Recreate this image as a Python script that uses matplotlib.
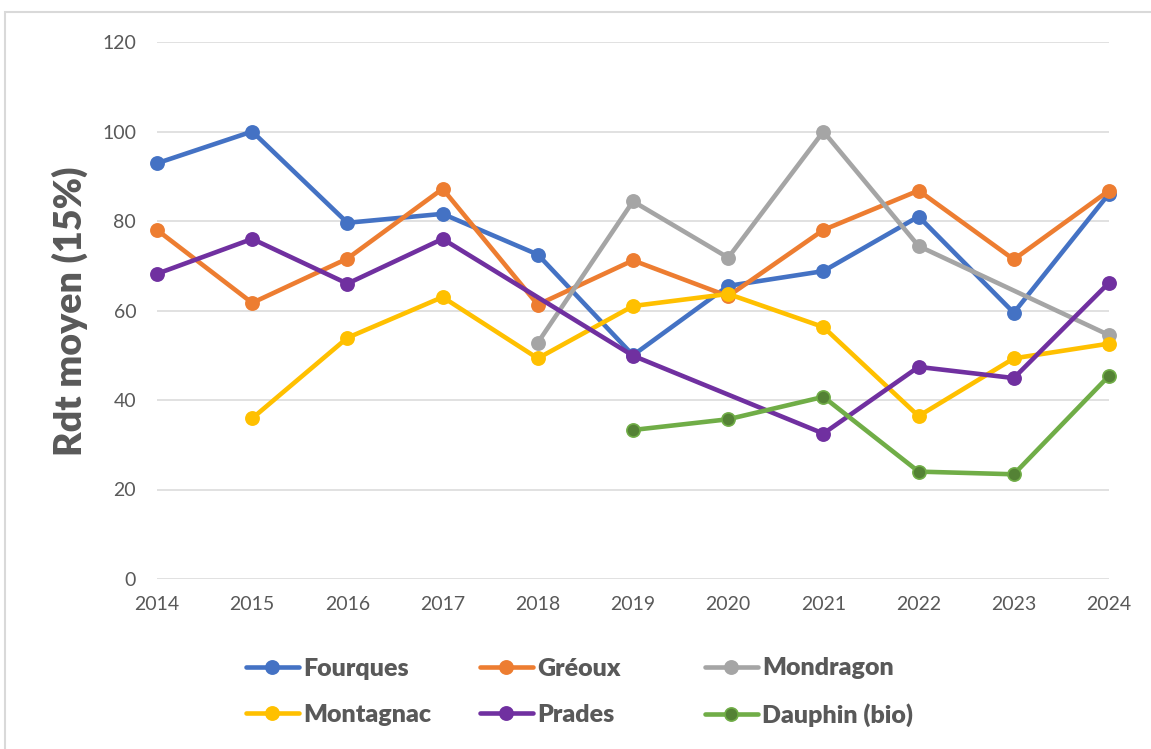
import matplotlib.pyplot as plt
from matplotlib.patches import Rectangle
import numpy as np

plt.rcParams['font.family'] = ['Lato', 'DejaVu Sans']

years = [2014, 2015, 2016, 2017, 2018, 2019, 2020, 2021, 2022, 2023, 2024]

fourques = [92.9, 100.0, 79.6, 81.6, 72.5, 50.0, 65.5, 68.8, 81.0, 59.5, 86.1]
greoux = [78.0, 61.7, 71.6, 87.2, 61.3, 71.2, 63.2, 78.0, 86.8, 71.4, 86.8]
mondragon = [None, None, None, None, 52.8, 84.4, 71.8, 100.0, 74.4, None, 54.5]
montagnac = [None, 35.9, 53.9, 63.0, 49.3, 61.0, 63.7, 56.3, 36.4, 49.3, 52.6]
prades = [68.2, 76.0, 66.0, 76.0, None, 49.9, None, 32.5, 47.4, 44.9, 66.2]
dauphin = [None, None, None, None, None, 33.3, 35.7, 40.7, 24.0, 23.4, 45.4]

series = [
    ('Fourques', fourques, '#4472C4', '#4472C4'),
    ('Gréoux', greoux, '#ED7D31', '#ED7D31'),
    ('Mondragon', mondragon, '#A5A5A5', '#A5A5A5'),
    ('Montagnac', montagnac, '#FFC000', '#FFC000'),
    ('Prades', prades, '#7030A0', '#7030A0'),
    ('Dauphin (bio)', dauphin, '#70AD47', '#548235'),
]

W, H = 1151, 749
fig = plt.figure(figsize=(W / 100, H / 100), dpi=100)
ax = fig.add_axes([157 / W, 1 - 579 / H, (1109 - 157) / W, (579 - 42) / H])

handles = {}
for name, vals, col, face in series:
    # gaps are skipped, the line joins the remaining points (like Excel)
    x = [yr for yr, v in zip(years, vals) if v is not None]
    y = [v for v in vals if v is not None]
    ln, = ax.plot(x, y, color=col, linewidth=3.3, marker='o', markersize=9.5,
                  markerfacecolor=face, markeredgecolor=col, markeredgewidth=1.2,
                  solid_capstyle='round', label=name, clip_on=False)
    handles[name] = ln

ax.set_xlim(2014, 2024)
ax.set_ylim(0, 120)
ax.set_xticks(years)
ax.set_xticklabels([str(y) for y in years])
ax.set_yticks(np.arange(0, 121, 20))
ax.yaxis.grid(True, color='#D9D9D9', linewidth=1.1)
ax.set_axisbelow(True)
for s in ax.spines.values():
    s.set_visible(False)
ax.tick_params(axis='both', length=0, labelsize=14, labelcolor='#595959')
ax.tick_params(axis='y', pad=15)
ax.tick_params(axis='x', pad=12)

fig.text(70 / W, 1 - 311 / H, 'Rdt moyen (15%)', rotation=90, ha='center', va='center',
         fontsize=27, fontweight='heavy', color='#595959')

# legend: three columns placed like the Excel layout
cols = [(['Fourques', 'Montagnac'], 246), (['Gréoux', 'Prades'], 480),
        (['Mondragon', 'Dauphin (bio)'], 705)]
for names, xpos in cols:
    leg = fig.legend([handles[n] for n in names], names, loc='center left',
                     bbox_to_anchor=(xpos / W, 1 - 692 / H), frameon=False,
                     borderpad=0, borderaxespad=0, handlelength=2.1, handletextpad=0.2,
                     labelspacing=0.95, prop={'weight': 'heavy', 'size': 18})
    for t in leg.get_texts():
        t.set_color('#595959')

fig.add_artist(Rectangle((5 / W, -0.1), 1.2, 1.084, transform=fig.transFigure,
                         fill=False, edgecolor='#D9D9D9', linewidth=1.5))

fig.savefig('out.png', dpi=100)
